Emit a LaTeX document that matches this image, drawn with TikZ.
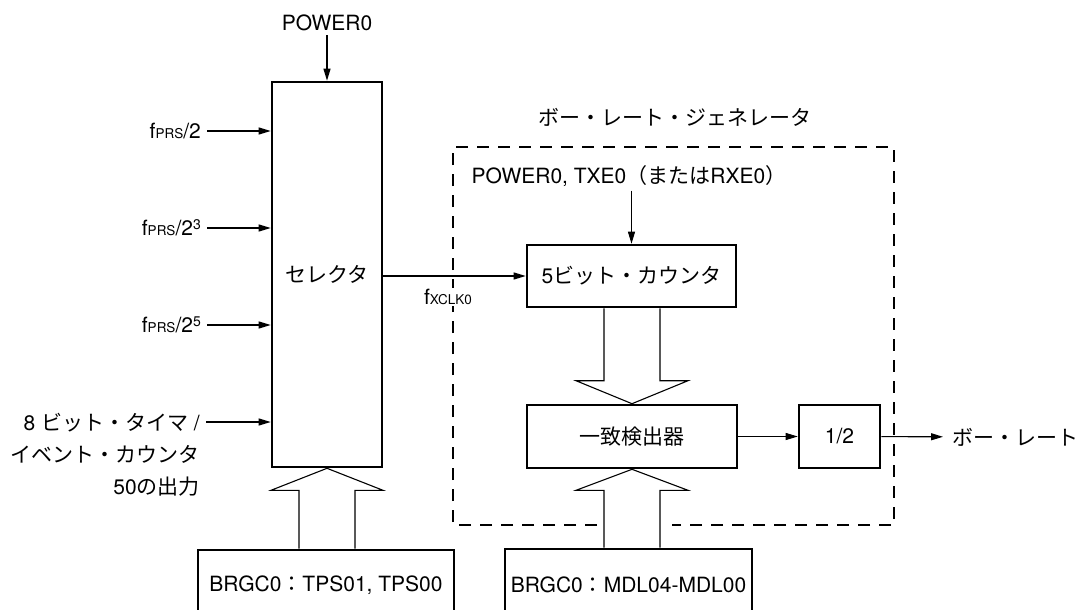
\documentclass[tikz,border=0pt]{standalone}
\usepackage{fontspec}
\setmainfont{TeX Gyre Heros}
\newfontfamily\jpfont{Noto Sans CJK JP}
\newcommand\ja[1]{{\jpfont #1}}
\newcommand\subsc[1]{{\fontsize{13.5}{13.5}\selectfont #1}}
\newcommand\supsc[1]{\raisebox{6pt}{\fontsize{14}{14}\selectfont #1}}
\usepackage{tikz}
\usetikzlibrary{arrows.meta, positioning, calc}

\tikzset{
  blk/.style={draw, line width=2.6pt, inner sep=0pt},
  inl/.style={anchor=east, inner xsep=6pt, inner ysep=2pt},
  sig/.style={line width=1.1pt, -{Triangle[length=12pt,width=7pt]}},
  fat/.style={line width=1.1pt, fill=white, line join=miter},
  gen/.style={line width=2.9pt, dash pattern=on 12pt off 9pt},
}
% wide bus arrow: tip, foot, shoulder offset
\newcommand\fatarrow[3]{\draw[fat] ($(#2 -| #1)+(-28,0)$) -- ($(#1)+(-28,#3)$) -- ($(#1)+(-56,#3)$) -- (#1)
  -- ($(#1)+(56,#3)$) -- ($(#1)+(28,#3)$) -- ($(#2 -| #1)+(28,0)$);}

\begin{document}
\begin{tikzpicture}[x=1pt, y=-1pt, font=\fontsize{21}{25}\selectfont]
  \useasboundingbox (0,0) rectangle (1081,610);

  % baud rate generator frame
  \draw[gen] (597,525) -- (453,525) -- (453,147) -- (894,147) -- (894,525) -- (672,525);
  \node (genl) at (675,117) {\ja{ボー・レート・ジェネレータ}};

  % selector
  \node[inner sep=4pt] (pwr) at (327,23) {POWER0};
  \node[blk, minimum width=110pt, minimum height=385pt] (sel) at (327,274.5) {\ja{セレクタ}};
  \draw[sig] (pwr) -- (sel);

  \node[inl] (in1) at (207,131) {f\subsc{PRS}/2};
  \node[inl] (in2) at (207,228) {f\subsc{PRS}/2\supsc{3}};
  \node[inl] (in3) at (207,325) {f\subsc{PRS}/2\supsc{5}};
  \node[inl, align=right, font=\fontsize{21}{32}\selectfont] (in4) at (206,455)
    {8 \ja{ビット・タイマ} /\\\ja{イベント・カウンタ}\\50\ja{の出力}};
  \coordinate (t8) at (206,422);
  \draw[sig] (in1) -- (in1 -| sel.west);
  \draw[sig] (in2) -- (in2 -| sel.west);
  \draw[sig] (in3) -- (in3 -| sel.west);
  \draw[sig] (t8) -- (t8 -| sel.west);

  \node[blk, minimum width=256pt, minimum height=70pt] (brgA) at (326,585) {BRGC0\ja{：}TPS01, TPS00};
  \fatarrow{sel.south}{brgA.north}{22}

  % counter and match
  \node[blk, minimum width=209pt, minimum height=62pt] (cnt) at (631.5,276) {5\ja{ビット・カウンタ}};
  \node[inner sep=4pt] (en) at (629,176) {POWER0, TXE0\ja{（または}RXE0\ja{）}};
  \draw[sig] (en.south -| cnt.north) -- (cnt.north);
  \draw[sig] (sel.east |- cnt.west) -- (cnt.west);
  \node[fill=white, inner sep=1pt] (fx) at (448,297) {f\subsc{XCLK0}};

  \node[blk, minimum width=210pt, minimum height=63pt] (match) at (632,436.5) {\ja{一致検出器}};
  \node[blk, minimum width=81pt, minimum height=63pt] (half) at (839.5,436.5) {1/2};
  \node[anchor=west, inner xsep=9pt] (out) at (943,437) {\ja{ボー・レート}};
  \draw[sig] (match) -- (half);
  \draw[sig] (half) -- (out);
  \fatarrow{match.north}{cnt.south}{-23}

  \node[blk, minimum width=247pt, minimum height=71pt] (brgB) at (628.5,584.5) {BRGC0\ja{：}MDL04-MDL00};
  \fatarrow{match.south}{brgB.north}{21}
\end{tikzpicture}
\end{document}
